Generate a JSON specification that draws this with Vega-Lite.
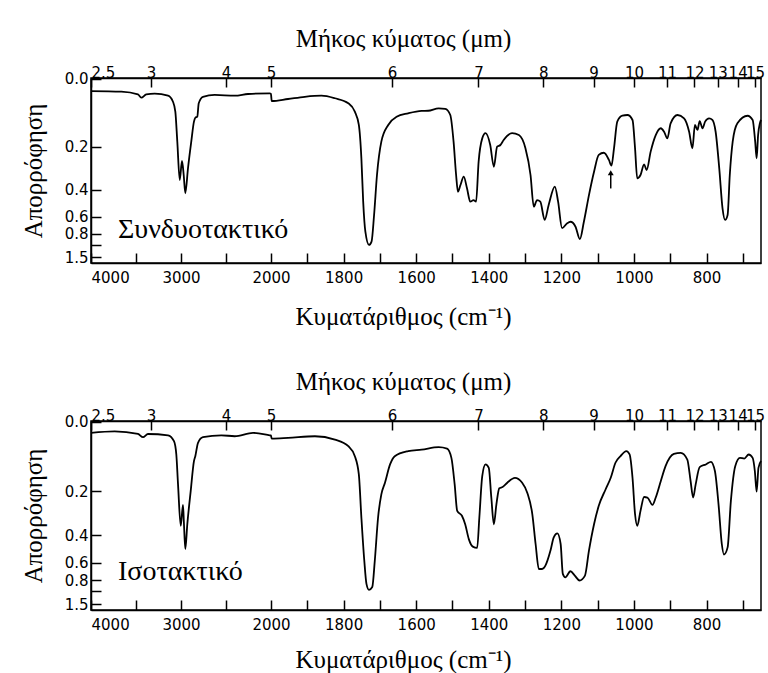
{
  "$schema": "https://vega.github.io/schema/vega-lite/v6.json",
  "background": "white",
  "padding": {"left": 20, "top": 25, "right": 5, "bottom": 0},
  "spacing": 38,
  "config": {
    "view": {"stroke": "black", "strokeWidth": 1.5},
    "axis": {
      "grid": false,
      "domainColor": "black",
      "domainWidth": 1.5,
      "tickColor": "black",
      "tickWidth": 1.5,
      "labelColor": "black",
      "labelFont": "DejaVu Sans",
      "labelFontSize": 15,
      "labelOverlap": false,
      "titleFont": "Liberation Serif",
      "titleFontWeight": "normal",
      "titleColor": "black",
      "titleFontSize": 25
    }
  },
  "datasets": {
    "syndiotactic": [
      {"wavenumber": 4000, "transmittance": 0.934}, {"wavenumber": 3663, "transmittance": 0.931}, {"wavenumber": 3478, "transmittance": 0.916}, {"wavenumber": 3441, "transmittance": 0.898}, {"wavenumber": 3386, "transmittance": 0.916}, {"wavenumber": 3292, "transmittance": 0.920}, {"wavenumber": 3144, "transmittance": 0.909}, {"wavenumber": 3089, "transmittance": 0.876}, {"wavenumber": 3063, "transmittance": 0.822}, {"wavenumber": 3041, "transmittance": 0.659}, {"wavenumber": 3014, "transmittance": 0.451}, {"wavenumber": 2989, "transmittance": 0.554}, {"wavenumber": 2970, "transmittance": 0.478}, {"wavenumber": 2952, "transmittance": 0.379}, {"wavenumber": 2922, "transmittance": 0.516}, {"wavenumber": 2886, "transmittance": 0.659}, {"wavenumber": 2856, "transmittance": 0.768}, {"wavenumber": 2841, "transmittance": 0.789}, {"wavenumber": 2819, "transmittance": 0.795}, {"wavenumber": 2803, "transmittance": 0.868}, {"wavenumber": 2756, "transmittance": 0.903}, {"wavenumber": 2626, "transmittance": 0.913}, {"wavenumber": 2403, "transmittance": 0.909}, {"wavenumber": 2256, "transmittance": 0.918}, {"wavenumber": 2014, "transmittance": 0.922}, {"wavenumber": 2001, "transmittance": 0.920}, {"wavenumber": 1998, "transmittance": 0.880}, {"wavenumber": 1953, "transmittance": 0.891}, {"wavenumber": 1907, "transmittance": 0.903}, {"wavenumber": 1861, "transmittance": 0.909}, {"wavenumber": 1824, "transmittance": 0.895}, {"wavenumber": 1787, "transmittance": 0.868}, {"wavenumber": 1769, "transmittance": 0.822}, {"wavenumber": 1758, "transmittance": 0.750}, {"wavenumber": 1751, "transmittance": 0.569}, {"wavenumber": 1746, "transmittance": 0.333}, {"wavenumber": 1740, "transmittance": 0.170}, {"wavenumber": 1730, "transmittance": 0.098}, {"wavenumber": 1723, "transmittance": 0.116}, {"wavenumber": 1716, "transmittance": 0.261}, {"wavenumber": 1708, "transmittance": 0.478}, {"wavenumber": 1696, "transmittance": 0.659}, {"wavenumber": 1677, "transmittance": 0.750}, {"wavenumber": 1654, "transmittance": 0.795}, {"wavenumber": 1622, "transmittance": 0.813}, {"wavenumber": 1585, "transmittance": 0.826}, {"wavenumber": 1567, "transmittance": 0.827}, {"wavenumber": 1538, "transmittance": 0.840}, {"wavenumber": 1520, "transmittance": 0.837}, {"wavenumber": 1506, "transmittance": 0.804}, {"wavenumber": 1497, "transmittance": 0.659}, {"wavenumber": 1490, "transmittance": 0.478}, {"wavenumber": 1485, "transmittance": 0.387}, {"wavenumber": 1478, "transmittance": 0.424}, {"wavenumber": 1469, "transmittance": 0.469}, {"wavenumber": 1460, "transmittance": 0.406}, {"wavenumber": 1451, "transmittance": 0.333}, {"wavenumber": 1442, "transmittance": 0.342}, {"wavenumber": 1435, "transmittance": 0.333}, {"wavenumber": 1428, "transmittance": 0.550}, {"wavenumber": 1418, "transmittance": 0.677}, {"wavenumber": 1409, "transmittance": 0.705}, {"wavenumber": 1396, "transmittance": 0.641}, {"wavenumber": 1386, "transmittance": 0.523}, {"wavenumber": 1377, "transmittance": 0.632}, {"wavenumber": 1368, "transmittance": 0.641}, {"wavenumber": 1359, "transmittance": 0.668}, {"wavenumber": 1336, "transmittance": 0.705}, {"wavenumber": 1317, "transmittance": 0.695}, {"wavenumber": 1299, "transmittance": 0.623}, {"wavenumber": 1285, "transmittance": 0.478}, {"wavenumber": 1276, "transmittance": 0.306}, {"wavenumber": 1267, "transmittance": 0.342}, {"wavenumber": 1258, "transmittance": 0.333}, {"wavenumber": 1246, "transmittance": 0.234}, {"wavenumber": 1235, "transmittance": 0.315}, {"wavenumber": 1218, "transmittance": 0.415}, {"wavenumber": 1209, "transmittance": 0.333}, {"wavenumber": 1198, "transmittance": 0.189}, {"wavenumber": 1184, "transmittance": 0.216}, {"wavenumber": 1175, "transmittance": 0.224}, {"wavenumber": 1161, "transmittance": 0.197}, {"wavenumber": 1149, "transmittance": 0.130}, {"wavenumber": 1138, "transmittance": 0.224}, {"wavenumber": 1124, "transmittance": 0.369}, {"wavenumber": 1110, "transmittance": 0.496}, {"wavenumber": 1097, "transmittance": 0.587}, {"wavenumber": 1083, "transmittance": 0.599}, {"wavenumber": 1069, "transmittance": 0.560}, {"wavenumber": 1062, "transmittance": 0.529}, {"wavenumber": 1055, "transmittance": 0.623}, {"wavenumber": 1046, "transmittance": 0.768}, {"wavenumber": 1032, "transmittance": 0.800}, {"wavenumber": 1018, "transmittance": 0.804}, {"wavenumber": 1004, "transmittance": 0.777}, {"wavenumber": 997, "transmittance": 0.623}, {"wavenumber": 991, "transmittance": 0.460}, {"wavenumber": 982, "transmittance": 0.478}, {"wavenumber": 972, "transmittance": 0.536}, {"wavenumber": 965, "transmittance": 0.505}, {"wavenumber": 954, "transmittance": 0.605}, {"wavenumber": 940, "transmittance": 0.695}, {"wavenumber": 926, "transmittance": 0.732}, {"wavenumber": 917, "transmittance": 0.713}, {"wavenumber": 908, "transmittance": 0.677}, {"wavenumber": 899, "transmittance": 0.759}, {"wavenumber": 880, "transmittance": 0.804}, {"wavenumber": 862, "transmittance": 0.786}, {"wavenumber": 848, "transmittance": 0.713}, {"wavenumber": 839, "transmittance": 0.623}, {"wavenumber": 832, "transmittance": 0.750}, {"wavenumber": 825, "transmittance": 0.723}, {"wavenumber": 819, "transmittance": 0.771}, {"wavenumber": 811, "transmittance": 0.732}, {"wavenumber": 804, "transmittance": 0.768}, {"wavenumber": 793, "transmittance": 0.786}, {"wavenumber": 784, "transmittance": 0.777}, {"wavenumber": 775, "transmittance": 0.713}, {"wavenumber": 765, "transmittance": 0.514}, {"wavenumber": 756, "transmittance": 0.297}, {"wavenumber": 749, "transmittance": 0.234}, {"wavenumber": 742, "transmittance": 0.261}, {"wavenumber": 736, "transmittance": 0.478}, {"wavenumber": 728, "transmittance": 0.659}, {"wavenumber": 715, "transmittance": 0.759}, {"wavenumber": 687, "transmittance": 0.800}, {"wavenumber": 673, "transmittance": 0.777}, {"wavenumber": 666, "transmittance": 0.659}, {"wavenumber": 662, "transmittance": 0.569}, {"wavenumber": 658, "transmittance": 0.695}, {"wavenumber": 653, "transmittance": 0.759}, {"wavenumber": 650, "transmittance": 0.777}
    ],
    "isotactic": [
      {"wavenumber": 4000, "transmittance": 0.942}, {"wavenumber": 3737, "transmittance": 0.950}, {"wavenumber": 3478, "transmittance": 0.936}, {"wavenumber": 3422, "transmittance": 0.919}, {"wavenumber": 3367, "transmittance": 0.936}, {"wavenumber": 3144, "transmittance": 0.929}, {"wavenumber": 3078, "transmittance": 0.898}, {"wavenumber": 3052, "transmittance": 0.827}, {"wavenumber": 3033, "transmittance": 0.668}, {"wavenumber": 3003, "transmittance": 0.448}, {"wavenumber": 2978, "transmittance": 0.559}, {"wavenumber": 2967, "transmittance": 0.456}, {"wavenumber": 2952, "transmittance": 0.324}, {"wavenumber": 2930, "transmittance": 0.456}, {"wavenumber": 2892, "transmittance": 0.633}, {"wavenumber": 2856, "transmittance": 0.792}, {"wavenumber": 2841, "transmittance": 0.818}, {"wavenumber": 2811, "transmittance": 0.889}, {"wavenumber": 2756, "transmittance": 0.919}, {"wavenumber": 2552, "transmittance": 0.929}, {"wavenumber": 2403, "transmittance": 0.924}, {"wavenumber": 2200, "transmittance": 0.942}, {"wavenumber": 2014, "transmittance": 0.929}, {"wavenumber": 2001, "transmittance": 0.928}, {"wavenumber": 1998, "transmittance": 0.911}, {"wavenumber": 1953, "transmittance": 0.915}, {"wavenumber": 1879, "transmittance": 0.924}, {"wavenumber": 1824, "transmittance": 0.906}, {"wavenumber": 1787, "transmittance": 0.871}, {"wavenumber": 1769, "transmittance": 0.818}, {"wavenumber": 1758, "transmittance": 0.721}, {"wavenumber": 1751, "transmittance": 0.492}, {"wavenumber": 1743, "transmittance": 0.263}, {"wavenumber": 1737, "transmittance": 0.139}, {"wavenumber": 1730, "transmittance": 0.107}, {"wavenumber": 1721, "transmittance": 0.122}, {"wavenumber": 1714, "transmittance": 0.263}, {"wavenumber": 1705, "transmittance": 0.492}, {"wavenumber": 1696, "transmittance": 0.615}, {"wavenumber": 1686, "transmittance": 0.677}, {"wavenumber": 1672, "transmittance": 0.774}, {"wavenumber": 1659, "transmittance": 0.818}, {"wavenumber": 1622, "transmittance": 0.845}, {"wavenumber": 1585, "transmittance": 0.853}, {"wavenumber": 1538, "transmittance": 0.866}, {"wavenumber": 1515, "transmittance": 0.858}, {"wavenumber": 1503, "transmittance": 0.809}, {"wavenumber": 1494, "transmittance": 0.668}, {"wavenumber": 1487, "transmittance": 0.527}, {"wavenumber": 1474, "transmittance": 0.501}, {"wavenumber": 1465, "transmittance": 0.456}, {"wavenumber": 1455, "transmittance": 0.377}, {"wavenumber": 1444, "transmittance": 0.337}, {"wavenumber": 1432, "transmittance": 0.330}, {"wavenumber": 1426, "transmittance": 0.492}, {"wavenumber": 1418, "transmittance": 0.712}, {"wavenumber": 1409, "transmittance": 0.774}, {"wavenumber": 1400, "transmittance": 0.756}, {"wavenumber": 1393, "transmittance": 0.598}, {"wavenumber": 1386, "transmittance": 0.456}, {"wavenumber": 1379, "transmittance": 0.562}, {"wavenumber": 1371, "transmittance": 0.647}, {"wavenumber": 1362, "transmittance": 0.654}, {"wavenumber": 1349, "transmittance": 0.677}, {"wavenumber": 1328, "transmittance": 0.703}, {"wavenumber": 1308, "transmittance": 0.677}, {"wavenumber": 1294, "transmittance": 0.624}, {"wavenumber": 1280, "transmittance": 0.509}, {"wavenumber": 1271, "transmittance": 0.351}, {"wavenumber": 1262, "transmittance": 0.218}, {"wavenumber": 1253, "transmittance": 0.218}, {"wavenumber": 1244, "transmittance": 0.236}, {"wavenumber": 1230, "transmittance": 0.316}, {"wavenumber": 1221, "transmittance": 0.386}, {"wavenumber": 1211, "transmittance": 0.407}, {"wavenumber": 1202, "transmittance": 0.351}, {"wavenumber": 1196, "transmittance": 0.192}, {"wavenumber": 1189, "transmittance": 0.174}, {"wavenumber": 1175, "transmittance": 0.206}, {"wavenumber": 1163, "transmittance": 0.183}, {"wavenumber": 1150, "transmittance": 0.157}, {"wavenumber": 1135, "transmittance": 0.183}, {"wavenumber": 1124, "transmittance": 0.316}, {"wavenumber": 1110, "transmittance": 0.456}, {"wavenumber": 1097, "transmittance": 0.554}, {"wavenumber": 1078, "transmittance": 0.642}, {"wavenumber": 1064, "transmittance": 0.703}, {"wavenumber": 1051, "transmittance": 0.783}, {"wavenumber": 1037, "transmittance": 0.818}, {"wavenumber": 1021, "transmittance": 0.845}, {"wavenumber": 1012, "transmittance": 0.827}, {"wavenumber": 1004, "transmittance": 0.703}, {"wavenumber": 997, "transmittance": 0.509}, {"wavenumber": 991, "transmittance": 0.448}, {"wavenumber": 982, "transmittance": 0.527}, {"wavenumber": 972, "transmittance": 0.601}, {"wavenumber": 963, "transmittance": 0.598}, {"wavenumber": 949, "transmittance": 0.559}, {"wavenumber": 940, "transmittance": 0.598}, {"wavenumber": 926, "transmittance": 0.686}, {"wavenumber": 913, "transmittance": 0.765}, {"wavenumber": 890, "transmittance": 0.830}, {"wavenumber": 871, "transmittance": 0.836}, {"wavenumber": 853, "transmittance": 0.800}, {"wavenumber": 844, "transmittance": 0.686}, {"wavenumber": 837, "transmittance": 0.598}, {"wavenumber": 830, "transmittance": 0.668}, {"wavenumber": 819, "transmittance": 0.760}, {"wavenumber": 802, "transmittance": 0.774}, {"wavenumber": 788, "transmittance": 0.788}, {"wavenumber": 777, "transmittance": 0.739}, {"wavenumber": 767, "transmittance": 0.562}, {"wavenumber": 758, "transmittance": 0.351}, {"wavenumber": 752, "transmittance": 0.295}, {"wavenumber": 742, "transmittance": 0.333}, {"wavenumber": 733, "transmittance": 0.580}, {"wavenumber": 721, "transmittance": 0.765}, {"wavenumber": 708, "transmittance": 0.809}, {"wavenumber": 696, "transmittance": 0.805}, {"wavenumber": 684, "transmittance": 0.827}, {"wavenumber": 673, "transmittance": 0.809}, {"wavenumber": 667, "transmittance": 0.739}, {"wavenumber": 662, "transmittance": 0.629}, {"wavenumber": 657, "transmittance": 0.756}, {"wavenumber": 650, "transmittance": 0.792}
    ]
  },
  "vconcat": [
    {
      "width": 670,
      "height": 185,
      "resolve": {"axis": {"x": "independent", "y": "independent"}},
      "layer": [
        {
          "data": {"name": "syndiotactic"},
          "mark": {"type": "line", "color": "black", "strokeWidth": 1.8, "interpolate": "monotone"},
          "encoding": {
            "x": {"field": "wavenumber", "type": "quantitative",
              "scale": {"type": "linear", "domain": [4000, 2000, 650], "range": [0, 180, 670], "zero": false, "nice": false},
              "axis": {"orient": "bottom", "values": [4000, 3500, 3000, 2500, 2000, 1900, 1800, 1700, 1600, 1500, 1400, 1300, 1200, 1100, 1000, 900, 800, 700],
                "labelExpr": "indexof([4000,3000,2000,1800,1600,1400,1200,1000,800], datum.value) >= 0 ? '' + datum.value : ''",
                "tickSize": -10, "labelPadding": 17, "labelFlush": true,
                "title": "Κυματάριθμος (cm⁻¹)", "titlePadding": 19, "titleX": 312}},
            "y": {"field": "transmittance", "type": "quantitative",
              "scale": {"domain": [0, 1.005], "zero": false, "nice": false},
              "axis": {"values": [1, 0.630957, 0.398107, 0.251189, 0.158489, 0.1, 0.0316228],
                "labelExpr": "datum.value == 0.1 ? '' : format(abs(log(datum.value))/LN10, '.1f')",
                "tickSize": -10, "labelPadding": 13,
                "title": "Απορρόφηση", "titleFontSize": 25, "titlePadding": 18}}
          }
        },
        {
          "data": {"values": [{"wavenumber": 3700, "transmittance": 0.136, "label": "Συνδυοτακτικό"}]},
          "mark": {"type": "text", "align": "left", "baseline": "alphabetic", "font": "Liberation Serif", "fontSize": 28, "color": "black"},
          "encoding": {
            "x": {"field": "wavenumber", "type": "quantitative",
              "scale": {"type": "linear", "domain": [4000, 2000, 650], "range": [0, 180, 670], "zero": false, "nice": false},
              "axis": {"orient": "top", "values": [4000, 3333.3333, 2500, 2000, 1666.6667, 1428.5714, 1250, 1111.1111, 1000, 909.0909, 833.3333, 769.2308, 714.2857, 666.6667],
                "labelExpr": "'' + round(100000 / datum.value) / 10",
                "tickSize": -9, "labelPadding": 7, "labelFlush": true,
                "title": "Μήκος κύματος (μm)", "titlePadding": 14, "titleX": 312}},
            "y": {"field": "transmittance", "type": "quantitative", "scale": {"domain": [0, 1.005], "zero": false, "nice": false}, "axis": null},
            "text": {"field": "label"}
          }
        },
        {
          "data": {"values": [{"wavenumber": 1064, "tail": 0.405, "head": 0.488}]},
          "mark": {"type": "rule", "color": "black", "strokeWidth": 1.5},
          "encoding": {
            "x": {"field": "wavenumber", "type": "quantitative", "axis": null},
            "y": {"field": "tail", "type": "quantitative", "axis": null},
            "y2": {"field": "head"}
          }
        },
        {
          "data": {"values": [{"wavenumber": 1064, "head": 0.49}]},
          "mark": {"type": "point", "shape": "triangle-up", "filled": true, "color": "black", "size": 35, "opacity": 1},
          "encoding": {
            "x": {"field": "wavenumber", "type": "quantitative", "axis": null},
            "y": {"field": "head", "type": "quantitative", "axis": null}
          }
        }
      ]
    },
    {
      "width": 670,
      "height": 189,
      "resolve": {"axis": {"x": "independent", "y": "independent"}},
      "layer": [
        {
          "data": {"name": "isotactic"},
          "mark": {"type": "line", "color": "black", "strokeWidth": 1.8, "interpolate": "monotone"},
          "encoding": {
            "x": {"field": "wavenumber", "type": "quantitative",
              "scale": {"type": "linear", "domain": [4000, 2000, 650], "range": [0, 180, 670], "zero": false, "nice": false},
              "axis": {"orient": "bottom", "values": [4000, 3500, 3000, 2500, 2000, 1900, 1800, 1700, 1600, 1500, 1400, 1300, 1200, 1100, 1000, 900, 800, 700],
                "labelExpr": "indexof([4000,3000,2000,1800,1600,1400,1200,1000,800], datum.value) >= 0 ? '' + datum.value : ''",
                "tickSize": -10, "labelPadding": 17, "labelFlush": true,
                "title": "Κυματάριθμος (cm⁻¹)", "titlePadding": 15, "titleX": 312}},
            "y": {"field": "transmittance", "type": "quantitative",
              "scale": {"domain": [0, 1.005], "zero": false, "nice": false},
              "axis": {"values": [1, 0.630957, 0.398107, 0.251189, 0.158489, 0.1, 0.0316228],
                "labelExpr": "datum.value == 0.1 ? '' : format(abs(log(datum.value))/LN10, '.1f')",
                "tickSize": -10, "labelPadding": 13,
                "title": "Απορρόφηση", "titleFontSize": 25, "titlePadding": 18}}
          }
        },
        {
          "data": {"values": [{"wavenumber": 3700, "transmittance": 0.159, "label": "Ισοτακτικό"}]},
          "mark": {"type": "text", "align": "left", "baseline": "alphabetic", "font": "Liberation Serif", "fontSize": 28, "color": "black"},
          "encoding": {
            "x": {"field": "wavenumber", "type": "quantitative",
              "scale": {"type": "linear", "domain": [4000, 2000, 650], "range": [0, 180, 670], "zero": false, "nice": false},
              "axis": {"orient": "top", "values": [4000, 3333.3333, 2500, 2000, 1666.6667, 1428.5714, 1250, 1111.1111, 1000, 909.0909, 833.3333, 769.2308, 714.2857, 666.6667],
                "labelExpr": "'' + round(100000 / datum.value) / 10",
                "tickSize": -9, "labelPadding": 7, "labelFlush": true,
                "title": "Μήκος κύματος (μm)", "titlePadding": 14, "titleX": 312}},
            "y": {"field": "transmittance", "type": "quantitative", "scale": {"domain": [0, 1.005], "zero": false, "nice": false}, "axis": null},
            "text": {"field": "label"}
          }
        }
      ]
    }
  ]
}
